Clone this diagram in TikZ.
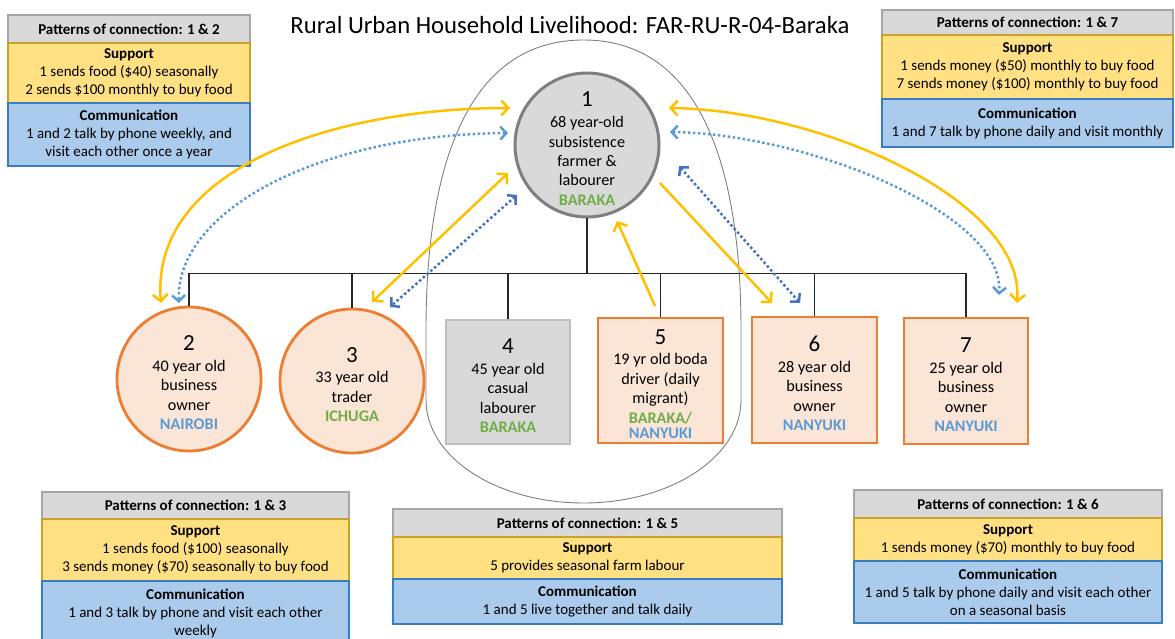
\documentclass[tikz,border=0pt]{standalone}
\usepackage{fontspec}
\setmainfont{Carlito}
\usetikzlibrary{arrows.meta,calc}
\definecolor{ylw}{HTML}{FFC000}
\definecolor{lblue}{HTML}{5B9BD5}
\definecolor{dblue}{HTML}{4472C4}
\definecolor{grn}{HTML}{70AD47}
\definecolor{txtblue}{HTML}{5B9BD5}
\definecolor{orng}{HTML}{ED7D31}
\definecolor{peach}{HTML}{FBE5D6}
\definecolor{lgray}{HTML}{D9D9D9}
\definecolor{dgray}{HTML}{7F7F7F}
\definecolor{rgray}{HTML}{BFBFBF}
\definecolor{hdrline}{HTML}{A6A6A6}
\definecolor{supfill}{HTML}{FFE083}
\definecolor{supline}{HTML}{C9A227}
\definecolor{comfill}{HTML}{AACBEB}
\definecolor{comline}{HTML}{3A7CC0}
\newcommand{\numtxt}[1]{{\fontsize{23}{23}\selectfont\rule{0pt}{22.5pt}#1}}
\begin{document}
\begin{tikzpicture}[x=1pt,y=-1pt,
  tree/.style={draw=black!85,line width=1.3pt},
  hdr/.style={rectangle,draw=hdrline,fill=lgray,line width=1.2pt,inner sep=0pt,align=center,
    font=\bfseries\fontsize{15}{18}\selectfont},
  sup/.style={rectangle,draw=supline,fill=supfill,line width=1.2pt,inner sep=0pt,align=center,
    font=\fontsize{15}{18}\selectfont},
  com/.style={rectangle,draw=comline,fill=comfill,line width=1.2pt,inner sep=0pt,align=center,
    font=\fontsize{15}{18}\selectfont},
  pcirc/.style={circle,draw=orng,fill=peach,line width=2.8pt,minimum size=144pt,inner sep=0pt,
    align=center,font=\fontsize{16.2}{19.5}\selectfont},
  prect/.style={rectangle,draw=orng,fill=peach,line width=2.8pt,inner sep=0pt,
    align=center,font=\fontsize{16.2}{19.5}\selectfont},
  grect/.style={rectangle,draw=rgray,fill=lgray,line width=1.5pt,inner sep=0pt,
    align=center,font=\fontsize{16.2}{19.5}\selectfont},
  yarr/.style={draw=ylw,line width=2.5pt},
  barr/.style={line width=2.5pt,dash pattern=on 2.5pt off 2.5pt},
  tip/.tip={Straight Barb[length=7pt,width=15pt]},
  btip/.tip={Straight Barb[length=6pt,width=13pt]},
  outline/.style={draw=dgray,line width=0.9pt}
]
\useasboundingbox (0,0) rectangle (1175,639);

% household outline
\draw[outline] (426,330) .. controls (426,160) and (470,40) .. (583.5,40)
  .. controls (697,40) and (741,160) .. (741,330) -- (741,400)
  .. controls (741,457) and (670.5,503) .. (583.5,503)
  .. controls (496.5,503) and (426,457) .. (426,400) -- cycle;

% title
\node[font=\fontsize{24.7}{28}\selectfont] (title) at (570,25) {Rural Urban Household Livelihood: FAR-RU-R-04-Baraka};

% nodes
\node[circle,draw=dgray,fill=lgray,line width=3pt,minimum size=144pt,inner sep=0pt,align=center,
  font=\fontsize{16.2}{19.5}\selectfont] (n1) at (587,145)
  {\numtxt{1}\\[1pt]68 year-old\\subsistence\\farmer \&\\labourer\\\textcolor{grn}{\bfseries BARAKA}};
\node[pcirc] (n2) at (189,379)
  {\numtxt{2}\\[1pt]40 year old\\business\\owner\\\textcolor{txtblue}{\bfseries NAIROBI}};
\node[pcirc] (n3) at (352,381)
  {\numtxt{3}\\[1pt]33 year old\\trader\\\textcolor{grn}{\bfseries ICHUGA}};
\node[grect,minimum width=124pt,minimum height=124pt] (n4) at (508,382)
  {\numtxt{4}\\[1pt]45 year old\\casual\\labourer\\\textcolor{grn}{\bfseries BARAKA}};
\node[prect,minimum width=125pt,minimum height=125pt] (n5) at (660.5,380.5)
  {\numtxt{5}\\[1pt]19 yr old boda\\driver (daily\\migrant)\\\textcolor{grn}{\bfseries BARAKA/}\\[-4pt]\textcolor{txtblue}{\bfseries NANYUKI}};
\node[prect,minimum width=125pt,minimum height=126pt] (n6) at (814.5,380)
  {\numtxt{6}\\[1pt]28 year old\\business\\owner\\\textcolor{txtblue}{\bfseries NANYUKI}};
\node[prect,minimum width=124pt,minimum height=126pt] (n7) at (966,381)
  {\numtxt{7}\\[1pt]25 year old\\business\\owner\\\textcolor{txtblue}{\bfseries NANYUKI}};

% tree connectors
\draw[tree] (n1.south) -- ++(0,55) coordinate (hub);
\draw[tree] (n2.north) -- (n2.north |- hub) -- (n7.north |- hub) -- (n7.north);
\draw[tree] (n3.north) -- (n3.north |- hub);
\draw[tree] (n4.north) -- (n4.north |- hub);
\draw[tree] (n5.north) -- (n5.north |- hub);
\draw[tree] (n6.north) -- (n6.north |- hub);

% pattern boxes
\node[hdr,minimum width=242pt,minimum height=28pt] (h12) at (129,29) {Patterns of connection: 1 \& 2};
\node[sup,minimum width=242pt,minimum height=60pt] (s12) at (129,73) {\textbf{Support}\\1 sends food (\$40) seasonally\\2 sends \$100 monthly to buy food};
\node[com,minimum width=242pt,minimum height=63pt] (c12) at (129,134.5) {\textbf{Communication}\\1 and 2 talk by phone weekly, and\\visit each other once a year};

\node[hdr,minimum width=291pt,minimum height=25pt] (h17) at (1027.5,22.5) {Patterns of connection: 1 \& 7};
\node[sup,minimum width=291pt,minimum height=64pt] (s17) at (1027.5,67) {\textbf{Support}\\1 sends money (\$50) monthly to buy food\\7 sends money (\$100) monthly to buy food};
\node[com,minimum width=291pt,minimum height=48pt] (c17) at (1027.5,123) {\textbf{Communication}\\1 and 7 talk by phone daily and visit monthly};

\node[hdr,minimum width=307pt,minimum height=27pt] (h13) at (195.5,505.5) {Patterns of connection: 1 \& 3};
\node[sup,minimum width=307pt,minimum height=62pt] (s13) at (195.5,550) {\textbf{Support}\\1 sends food (\$100) seasonally\\3 sends money (\$70) seasonally to buy food};
\node[com,minimum width=307pt,minimum height=64pt] (c13) at (195.5,613) {\textbf{Communication}\\1 and 3 talk by phone and visit each other\\weekly};

\node[hdr,minimum width=389pt,minimum height=28pt] (h15) at (587.5,523) {Patterns of connection: 1 \& 5};
\node[sup,minimum width=389pt,minimum height=42pt] (s15) at (587.5,558) {\textbf{Support}\\5 provides seasonal farm labour};
\node[com,minimum width=389pt,minimum height=45pt] (c15) at (587.5,601.5) {\textbf{Communication}\\1 and 5 live together and talk daily};

\node[hdr,minimum width=308pt,minimum height=28pt] (h16) at (1008,504) {Patterns of connection: 1 \& 6};
\node[sup,minimum width=308pt,minimum height=43pt] (s16) at (1008,539.5) {\textbf{Support}\\1 sends money (\$70) monthly to buy food};
\node[com,minimum width=308pt,minimum height=62pt] (c16) at (1008,592) {\textbf{Communication}\\1 and 5 talk by phone daily and visit each other\\on a seasonal basis};

% arrows
\draw[yarr,{tip}-{tip}] ($(n1.center)+(-77,-37)$) .. controls (330,108) and (150,170) .. ($(n2.center)+(-28,-76)$);
\draw[barr,draw=lblue,{btip}-{btip}] ($(n1.center)+(-79,-12)$) .. controls (310,135) and (175,215) .. ($(n2.center)+(-10,-76)$);
\draw[yarr,{tip}-{tip}] ($(n1.center)+(-79,28)$) -- ($(n3.center)+(20,-79)$);
\draw[barr,draw=dblue,{btip}-{btip}] ($(n1.center)+(-70,50)$) -- ($(n3.center)+(38,-74)$);
\draw[yarr,-{tip}] ($(n5.center)+(-5.5,-74.5)$) -- ($(n1.center)+(30,76)$);
\draw[yarr,-{tip}] ($(n1.center)+(73,38)$) -- ($(n6.center)+(-42.5,-77)$);
\draw[barr,draw=dblue,{btip}-{btip}] ($(n1.center)+(92,21)$) -- ($(n6.center)+(-14.5,-77)$);
\draw[yarr,{tip}-{tip}] ($(n1.center)+(82,-37)$) .. controls (820,110) and (1025,200) .. ($(n7.center)+(51,-78)$);
\draw[barr,draw=lblue,{btip}-{btip}] ($(n1.center)+(83,-13)$) .. controls (810,134) and (1005,215) .. ($(n7.center)+(33,-86)$);
\end{tikzpicture}
\end{document}
